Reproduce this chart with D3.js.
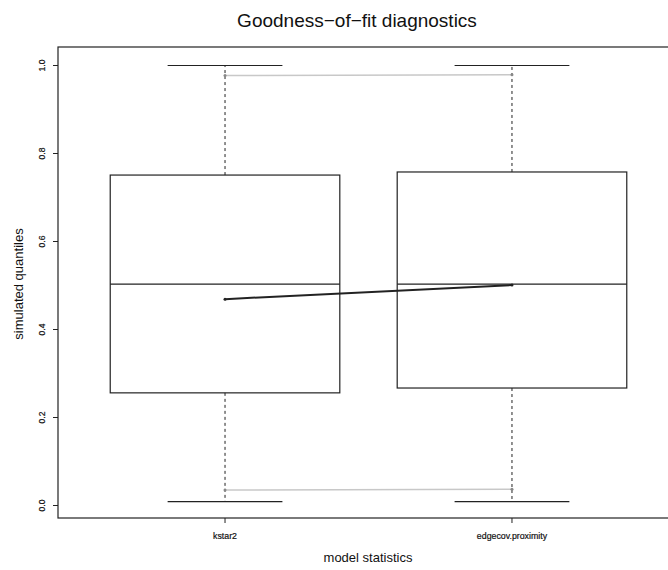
<!DOCTYPE html>
<html>
<head>
<meta charset="utf-8">
<script src="https://cdn.jsdelivr.net/npm/d3@7"></script>
<style>
  body { margin: 0; background: #fff; }
  text { font-family: "Liberation Sans", Arial, sans-serif; }
</style>
</head>
<body>
<svg id="chart" width="668" height="570"></svg>
<script>
// model statistics and their simulated quantile boxes
let stats = ["kstar2", "edgecov.proximity"];
let whisker_low = [0.009, 0.009];
let box_low = [0.256, 0.267];
let box_median = [0.503, 0.503];
let box_high = [0.751, 0.758];
let whisker_high = [1.0, 1.0];
// observed quantiles (black) and 95% bounds (grey)
let obs = [0.469, 0.501];
let ci_low = [0.035, 0.037];
let ci_high = [0.977, 0.979];
let y_ticks = [0, 0.2, 0.4, 0.6, 0.8, 1.0];

let svg = d3.select('#chart');
let plot_left = 58, plot_right = 679, plot_top = 47, plot_bottom = 518;

let x = d3.scaleLinear().domain([0.418, 2.582]).range([plot_left, plot_right]);
let y = d3.scaleLinear().domain([0, 1]).range([505.5, 65.5]);
let box_w = x(1.4) - x(1);
let cap_w = box_w / 2;

// plot frame
svg.append('rect').attr('x', plot_left).attr('y', plot_top)
  .attr('width', plot_right - plot_left).attr('height', plot_bottom - plot_top)
  .attr('fill', 'none').attr('stroke', '#222').attr('stroke-width', 1.2);

let g = svg.append('g');
stats.forEach((s, i) => {
  let cx = x(i + 1);
  // whiskers
  g.append('line').attr('x1', cx).attr('x2', cx).attr('y1', y(box_high[i])).attr('y2', y(whisker_high[i]))
    .attr('stroke', '#222').attr('stroke-dasharray', '3,3');
  g.append('line').attr('x1', cx).attr('x2', cx).attr('y1', y(box_low[i])).attr('y2', y(whisker_low[i]))
    .attr('stroke', '#222').attr('stroke-dasharray', '3,3');
  [whisker_high[i], whisker_low[i]].forEach(v => {
    g.append('line').attr('x1', cx - cap_w).attr('x2', cx + cap_w).attr('y1', y(v)).attr('y2', y(v))
      .attr('stroke', '#222').attr('stroke-width', 1.2);
  });
  // box
  g.append('rect').attr('x', cx - box_w).attr('width', box_w * 2)
    .attr('y', y(box_high[i])).attr('height', y(box_low[i]) - y(box_high[i]))
    .attr('fill', 'none').attr('stroke', '#222').attr('stroke-width', 1.2);
  g.append('line').attr('x1', cx - box_w).attr('x2', cx + box_w)
    .attr('y1', y(box_median[i])).attr('y2', y(box_median[i]))
    .attr('stroke', '#222').attr('stroke-width', 1.2);
});

let line = d3.line().x((d, i) => x(i + 1)).y(d => y(d));
[[ci_high, '#c8c8c8'], [ci_low, '#c8c8c8'], [obs, '#222']].forEach(([arr, col]) => {
  g.append('path').attr('d', line(arr)).attr('fill', 'none')
    .attr('stroke', col).attr('stroke-width', col === '#222' ? 2 : 1.5);
  g.selectAll(null).data(arr).enter().append('circle')
    .attr('cx', (d, i) => x(i + 1)).attr('cy', d => y(d)).attr('r', 1.5)
    .attr('fill', col === '#222' ? '#222' : '#888');
});

// y axis
let ya = svg.append('g');
y_ticks.forEach(t => {
  ya.append('line').attr('x1', plot_left - 5).attr('x2', plot_left).attr('y1', y(t)).attr('y2', y(t)).attr('stroke', '#222');
  ya.append('text').attr('transform', 'translate(45,' + y(t) + ') rotate(-90)')
    .attr('text-anchor', 'middle').attr('font-size', 8.5).attr('fill', '#111')
    .attr('stroke', '#111').attr('stroke-width', 0.2).text(t.toFixed(1));
});
svg.append('text').attr('transform', 'translate(23,284) rotate(-90)')
  .attr('text-anchor', 'middle').attr('font-size', 13).attr('fill', '#111').text('simulated quantiles');

// x axis
stats.forEach((s, i) => {
  svg.append('line').attr('x1', x(i + 1)).attr('x2', x(i + 1)).attr('y1', plot_bottom).attr('y2', plot_bottom + 5).attr('stroke', '#222');
  svg.append('text').attr('x', x(i + 1)).attr('y', 539).attr('text-anchor', 'middle')
    .attr('font-size', 8.8).attr('fill', '#111').attr('stroke', '#111').attr('stroke-width', 0.2).text(s);
});
svg.append('text').attr('x', 368).attr('y', 562).attr('text-anchor', 'middle')
  .attr('font-size', 13).attr('fill', '#111').text('model statistics');

svg.append('text').attr('x', 357).attr('y', 27).attr('text-anchor', 'middle')
  .attr('font-size', 19).attr('fill', '#111').text('Goodness−of−fit diagnostics');
</script>
</body>
</html>
